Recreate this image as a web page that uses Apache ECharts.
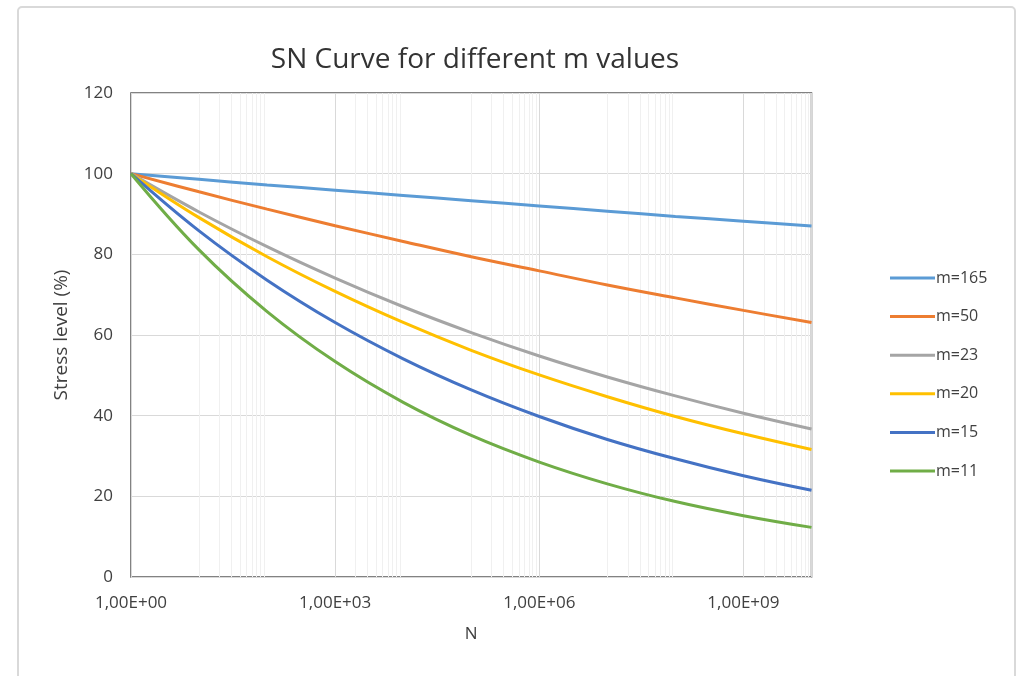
<!DOCTYPE html>
<html>
<head>
<meta charset="utf-8">
<script src="https://cdn.jsdelivr.net/npm/echarts@6/dist/echarts.min.js"></script>
<style>
  html, body { margin: 0; padding: 0; background: #fff; }
  #chart { width: 1027px; height: 676px; }
</style>
</head>
<body>
<div id="chart"></div>
<script>
// N values, one per decade
const nValues = [1, 1e1, 1e2, 1e3, 1e4, 1e5, 1e6, 1e7, 1e8, 1e9, 1e10];

// stress level (%) at each decade
const m165 = [100, 98.6, 97.2, 95.9, 94.6, 93.3, 92.0, 90.7, 89.4, 88.2, 87.0];
const m50 = [100, 95.5, 91.2, 87.1, 83.2, 79.4, 75.9, 72.4, 69.2, 66.1, 63.1];
const m23 = [100, 90.5, 81.9, 74.1, 67.0, 60.6, 54.8, 49.6, 44.9, 40.6, 36.7];
const m20 = [100, 89.1, 79.4, 70.8, 63.1, 56.2, 50.1, 44.7, 39.8, 35.5, 31.6];
const m15 = [100, 85.8, 73.6, 63.1, 54.1, 46.4, 39.8, 34.1, 29.3, 25.1, 21.5];
const m11 = [100, 81.1, 65.8, 53.4, 43.3, 35.1, 28.5, 23.1, 18.7, 15.2, 12.3];

const seriesNames = ['m=165', 'm=50', 'm=23', 'm=20', 'm=15', 'm=11'];
const xTickLabels = ['1,00E+00', '1,00E+03', '1,00E+06', '1,00E+09'];

// faint minor gridlines as they show in the picture
const minorGridN = [
  10, 20, 30, 40, 50, 60, 70, 80, 90,
  2e3, 3e3, 4e3, 5e3, 6e3, 7e3, 8e3, 9e3,
  1e5, 2e5, 3e5, 4e5, 5e5, 6e5, 7e5, 8e5, 9e5,
  1e7, 2e7, 3e7, 4e7, 5e7, 6e7, 7e7, 8e7, 9e7,
  2e9, 3e9, 4e9, 5e9, 6e9, 7e9, 8e9, 9e9
];

const colors = ['#5B9BD5', '#ED7D31', '#A5A5A5', '#FFC000', '#4472C4', '#70AD47'];
const allValues = [m165, m50, m23, m20, m15, m11];
const font = '"Open Sans", sans-serif';

const chart = echarts.init(document.getElementById('chart'));

const series = seriesNames.map((name, i) => {
  const s = {
    name,
    type: 'line',
    data: nValues.map((n, j) => [n, allValues[i][j]]),
    smooth: 0.4,
    symbol: 'none',
    lineStyle: { width: 3, color: colors[i] },
    itemStyle: { color: colors[i] },
    z: 3
  };
  if (i === 0) {
    s.markLine = {
      silent: true,
      symbol: 'none',
      label: { show: false },
      lineStyle: { color: '#f0f0f0', width: 1, type: 'solid' },
      z: 1,
      animation: false,
      data: minorGridN.map(v => ({ xAxis: v }))
    };
  }
  return s;
});

chart.setOption({
  animation: false,
  textStyle: { fontFamily: font },
  graphic: [{
    type: 'rect',
    shape: { x: 18, y: 7, width: 997, height: 700, r: 4 },
    style: { fill: 'none', stroke: '#d9d9d9', lineWidth: 2 },
    silent: true
  }],
  title: {
    text: 'SN Curve for different m values',
    left: 470,
    top: 41,
    textAlign: 'center',
    textStyle: { fontFamily: font, fontSize: 28, fontWeight: 'normal', color: '#333' }
  },
  legend: {
    orient: 'vertical',
    left: 885,
    top: 265,
    icon: 'rect',
    itemWidth: 45,
    itemHeight: 3,
    itemGap: 22.6,
    textStyle: { fontFamily: font, fontSize: 16, color: '#404040', padding: [0, 0, 0, -4] },
    data: seriesNames
  },
  grid: {
    left: 131,
    right: 215.5,
    top: 93,
    bottom: 99,
    show: true,
    borderColor: '#595959',
    borderWidth: 1.5,
    containLabel: false
  },
  xAxis: {
    type: 'log',
    logBase: 1000,
    min: 1,
    max: 1e10,
    interval: 1,
    name: 'N',
    nameLocation: 'middle',
    nameGap: 49,
    nameTextStyle: { fontFamily: font, fontSize: 17, color: '#404040' },
    axisLine: { show: false },
    axisTick: { show: false },
    axisLabel: {
      showMaxLabel: false,
      fontFamily: font,
      fontSize: 17,
      color: '#404040',
      margin: 18,
      formatter: v => xTickLabels[Math.round(Math.log10(v) / 3)] || ''
    },
    splitLine: { show: true, lineStyle: { color: '#d9d9d9', width: 1 } }
  },
  yAxis: {
    type: 'value',
    min: 0,
    max: 120,
    interval: 20,
    name: 'Stress level (%)',
    nameLocation: 'middle',
    nameGap: 60,
    nameTextStyle: { fontFamily: font, fontSize: 19, color: '#404040' },
    axisLine: { show: false },
    axisTick: { show: false },
    axisLabel: { fontFamily: font, fontSize: 17, color: '#404040', margin: 18 },
    splitLine: { show: true, lineStyle: { color: '#d9d9d9', width: 1 } }
  },
  series
});
</script>
</body>
</html>
